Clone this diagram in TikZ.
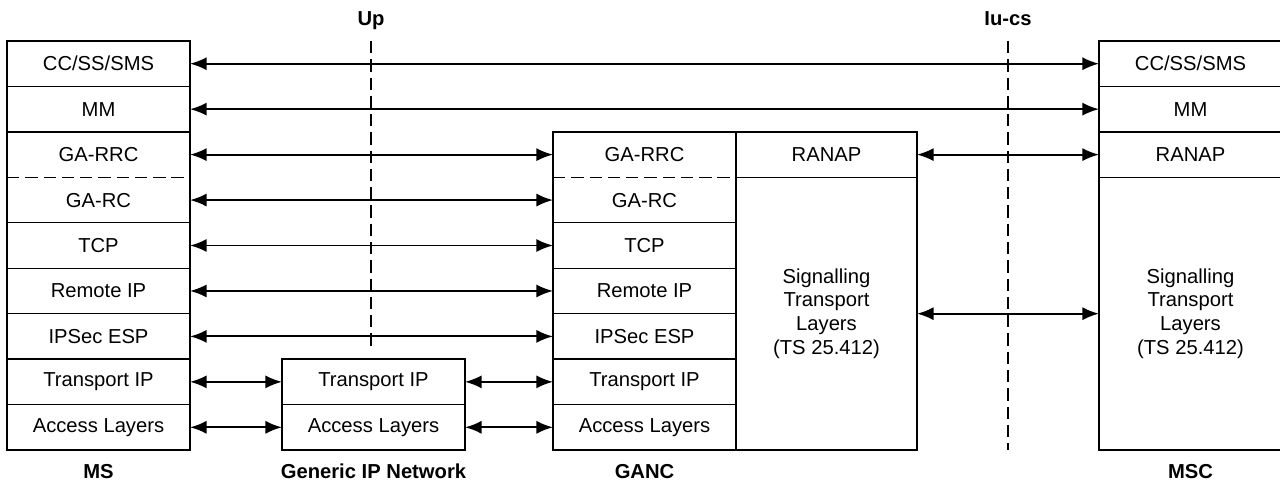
\documentclass[tikz,border=0pt]{standalone}
\usepackage{fontspec}
\setmainfont{Liberation Sans}
\usetikzlibrary{positioning, arrows.meta}

\begin{document}
\begin{tikzpicture}[
    font=\fontsize{11.5}{13.6}\selectfont,
    layer/.style={rectangle, draw=black, line width=0.8pt, minimum width=3.66cm, minimum height=0.909cm, outer sep=0pt, inner sep=0pt, align=center},
    bare/.style={layer, draw=none},
    tall/.style={layer, minimum height=5.454cm},
    title/.style={font=\fontsize{11.5}{13.6}\selectfont\bfseries},
    iface/.style={line width=0.8pt, dash pattern=on 7pt off 3.4pt},
    split/.style={line width=0.8pt, dash pattern=on 7pt off 3.4pt},
    arrow/.style={{Latex[length=9.5pt,width=7.5pt]}-{Latex[length=9.5pt,width=7.5pt]}, line width=1.1pt}
]
\useasboundingbox (0,0) rectangle (25.6,-9.66);
\node[layer] (ms1) at (1.97,-1.274) {CC/SS/SMS};
\node[layer, below=0pt of ms1] (ms2) {MM};
\node[bare, below=0pt of ms2] (ms3) {GA-RRC};
\node[bare, below=0pt of ms3] (ms4) {GA-RC};
\node[layer, below=0pt of ms4] (ms5) {TCP};
\node[layer, below=0pt of ms5] (ms6) {Remote IP};
\node[layer, below=0pt of ms6] (ms7) {IPSec ESP};
\node[layer, below=0pt of ms7] (ms8) {Transport IP};
\node[layer, below=0pt of ms8] (ms9) {Access Layers};
\draw[line width=0.8pt] (ms3.north west) rectangle (ms4.south east);
\draw[split] (ms3.south west) -- (ms3.south east);
\node[layer, right=1.84cm of ms8] (gen1) {Transport IP};
\node[layer, below=0pt of gen1] (gen2) {Access Layers};
\node[bare, right=7.26cm of ms3] (ganc1) {GA-RRC};
\node[bare, below=0pt of ganc1] (ganc2) {GA-RC};
\node[layer, below=0pt of ganc2] (ganc3) {TCP};
\node[layer, below=0pt of ganc3] (ganc4) {Remote IP};
\node[layer, below=0pt of ganc4] (ganc5) {IPSec ESP};
\node[layer, below=0pt of ganc5] (ganc6) {Transport IP};
\node[layer, below=0pt of ganc6] (ganc7) {Access Layers};
\draw[line width=0.8pt] (ganc1.north west) rectangle (ganc2.south east);
\draw[split] (ganc1.south west) -- (ganc1.south east);
\node[layer, minimum width=3.62cm, right=0pt of ganc1] (ranap) {RANAP};
\node[tall, minimum width=3.62cm, below=0pt of ranap] (sig) {Signalling\\Transport\\Layers\\(TS 25.412)};
\node[layer, right=18.18cm of ms1] (msc1) {CC/SS/SMS};
\node[layer, below=0pt of msc1] (msc2) {MM};
\node[layer, below=0pt of msc2] (msc3) {RANAP};
\node[tall, below=0pt of msc3] (msc4) {Signalling\\Transport\\Layers\\(TS 25.412)};
\node[title, anchor=base] (up) at (7.42,-0.5) {Up};
\node[title, anchor=base] (iucs) at (20.16,-0.5) {Iu-cs};
\coordinate (upend) at ([yshift=0.18cm]gen1.north);
\draw[iface] (up |- ms1.north) -- (up |- upend);
\draw[iface] (iucs |- msc1.north) -- (iucs |- msc4.south);
\draw[arrow] (ms1) -- (msc1);
\draw[arrow] (ms2) -- (msc2);
\draw[arrow] (ms3) -- (ganc1);
\draw[arrow] (ms4) -- (ganc2);
\draw[arrow] (ms5) -- (ganc3);
\draw[arrow] (ms6) -- (ganc4);
\draw[arrow] (ms7) -- (ganc5);
\draw[arrow] (ms8) -- (gen1);
\draw[arrow] (ms9) -- (gen2);
\draw[arrow] (gen1) -- (ganc6);
\draw[arrow] (gen2) -- (ganc7);
\draw[arrow] (ranap) -- (msc3);
\draw[arrow] (sig) -- (msc4);
\node[title, below=0.16cm of ms9] (mslabel) {MS};
\node[title, below=0.16cm of gen2] (genlabel) {Generic IP Network};
\node[title, below=0.16cm of ganc7] (ganclabel) {GANC};
\node[title, below=0.16cm of msc4] (msclabel) {MSC};
\end{tikzpicture}
\end{document}
